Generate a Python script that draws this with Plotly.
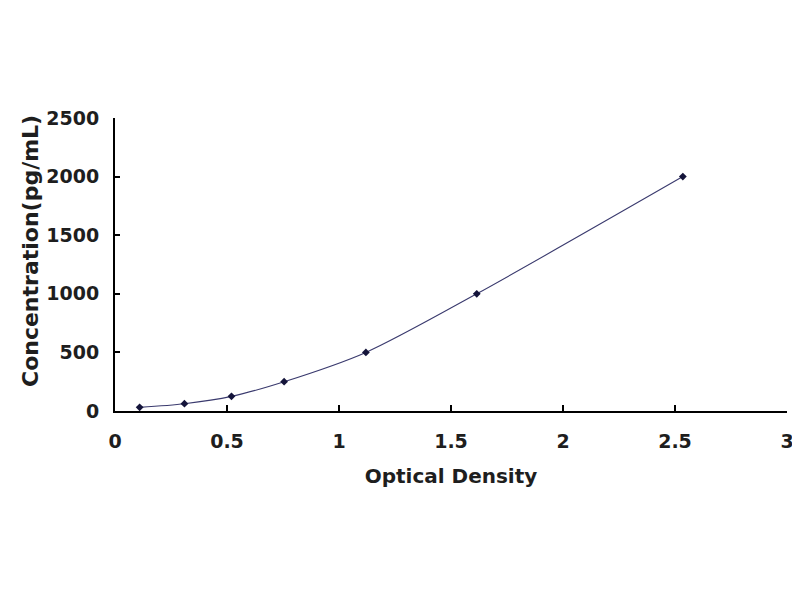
import plotly.graph_objects as go

# standard curve points
optical_density = [0.11, 0.31, 0.52, 0.755, 1.12, 1.615, 2.535]
concentration = [31.25, 62.5, 125, 250, 500, 1000, 2000]

x_ticks = [0, 0.5, 1, 1.5, 2, 2.5, 3]
x_tick_text = ["0", "0.5", "1", "1.5", "2", "2.5", "3"]
y_ticks = [0, 500, 1000, 1500, 2000, 2500]

font_name = "DejaVu Sans"
tick_font = dict(family=font_name, size=19, color="#1e1e1e", weight="bold")
x_title_font = dict(family=font_name, size=20, color="#1e1e1e", weight="bold")
y_title_font = dict(family=font_name, size=22, color="#1e1e1e", weight="bold")

fig = go.Figure()
fig.add_trace(go.Scatter(
    x=optical_density,
    y=concentration,
    mode="lines+markers",
    line=dict(color="#3a3a6e", width=1.1, shape="spline", smoothing=0.8),
    marker=dict(symbol="diamond", size=6, color="#14143a"),
    showlegend=False,
))

fig.update_xaxes(
    range=[0, 3], tickvals=x_ticks, ticktext=x_tick_text,
    showline=True, linecolor="black", linewidth=2,
    ticks="inside", ticklen=6, tickwidth=1.5, tickcolor="black",
    showgrid=False, zeroline=False, ticklabelstandoff=12,
    tickfont=tick_font,
    title=dict(text="Optical Density", standoff=18, font=x_title_font),
)
fig.update_yaxes(
    range=[0, 2500], tickvals=y_ticks,
    showline=True, linecolor="black", linewidth=2,
    ticks="inside", ticklen=5, tickwidth=1.5, tickcolor="black",
    showgrid=False, zeroline=False, ticklabelstandoff=10,
    tickfont=tick_font,
)
# y title placed by hand, it sits a little above the plot centre
fig.add_annotation(
    text="Concentration(pg/mL)", textangle=-90,
    xref="paper", yref="paper", x=-0.1265, y=0.546,
    xanchor="center", yanchor="middle", showarrow=False,
    font=y_title_font,
)
# a bit under 800x600 so the page body margin does not cause scrollbars
fig.update_layout(
    width=792, height=592,
    margin=dict(l=107, r=13, t=110, b=189, autoexpand=False),
    plot_bgcolor="white", paper_bgcolor="white",
    font=dict(family=font_name),
)

fig.write_html("out.html")
